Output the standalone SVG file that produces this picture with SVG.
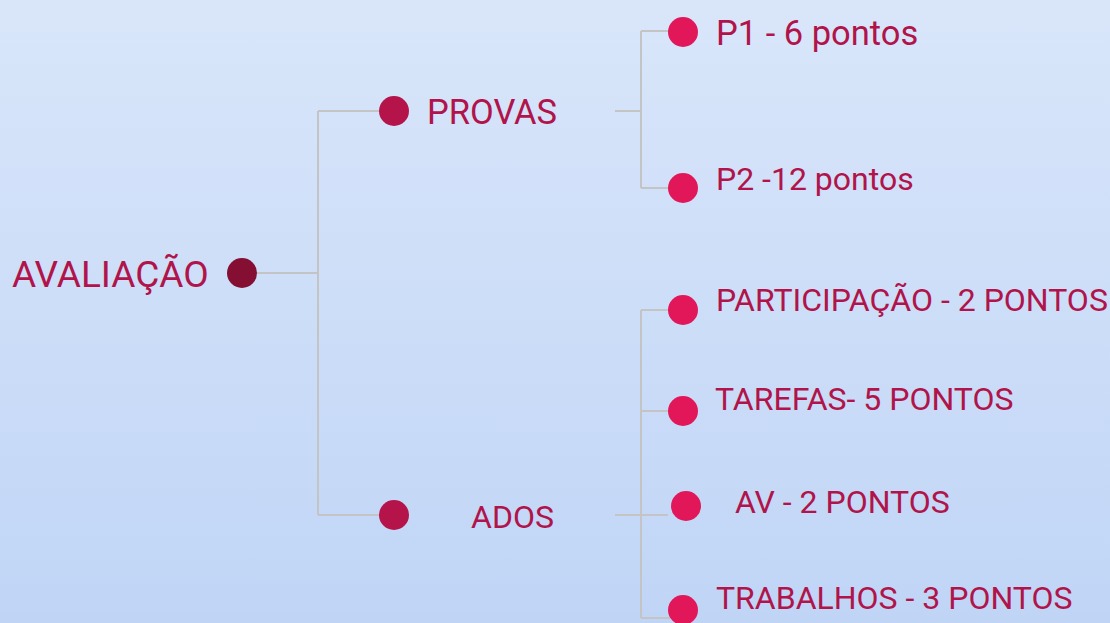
<svg xmlns="http://www.w3.org/2000/svg" width="1110" height="623" viewBox="0 0 1110 623">
<defs>
<linearGradient id="bg" x1="0" y1="0" x2="0" y2="1">
<stop offset="0" stop-color="#d9e6fa"/>
<stop offset="1" stop-color="#c0d5f6"/>
</linearGradient>
</defs>
<style>
.t{font-family:Roboto,"Liberation Sans",sans-serif;font-size:32px;fill:#b0144a}
.c{fill:none;stroke:#c4c4c4;stroke-width:2}
</style>
<rect width="1110" height="623" fill="url(#bg)"/>
<g id="connectors">
<path class="c" d="M257 273H318M318 111V515M318 111H380M318 515H380"/>
<path class="c" d="M615 111H641M641 31V188M641 31H670M641 188H670"/>
<path class="c" d="M615 515H668M641 310V618M641 310H670M641 411H670M641 618H670"/>
</g>
<g id="root"><circle cx="242" cy="273" r="15" fill="#850f33"/><text class="t" x="12" y="287" style="font-size:37px">AVALIAÇÃO</text></g>
<g id="provas"><circle cx="394" cy="111" r="15" fill="#b5144a"/><text class="t" x="427" y="124" style="font-size:34.5px">PROVAS</text></g>
<g id="ados"><circle cx="394" cy="515" r="15" fill="#b5144a"/><text class="t" x="471" y="528">ADOS</text></g>
<g id="p1"><circle cx="683" cy="32" r="15" fill="#e2175a"/><text class="t" x="716" y="45" style="font-size:34.5px">P1 - 6 pontos</text></g>
<g id="p2"><circle cx="683" cy="188" r="15" fill="#e2175a"/><text class="t" x="716" y="190">P2 -12 pontos</text></g>
<g id="participacao"><circle cx="683" cy="310" r="15" fill="#e2175a"/><text class="t" x="716" y="311">PARTICIPAÇÃO - 2 PONTOS</text></g>
<g id="tarefas"><circle cx="683" cy="411" r="15" fill="#e2175a"/><text class="t" x="715" y="410">TAREFAS- 5 PONTOS</text></g>
<g id="av"><circle cx="686" cy="506" r="15" fill="#e2175a"/><text class="t" x="735" y="513">AV - 2 PONTOS</text></g>
<g id="trabalhos"><circle cx="683" cy="610" r="15" fill="#e2175a"/><text class="t" x="716" y="609">TRABALHOS - 3 PONTOS</text></g>
</svg>
